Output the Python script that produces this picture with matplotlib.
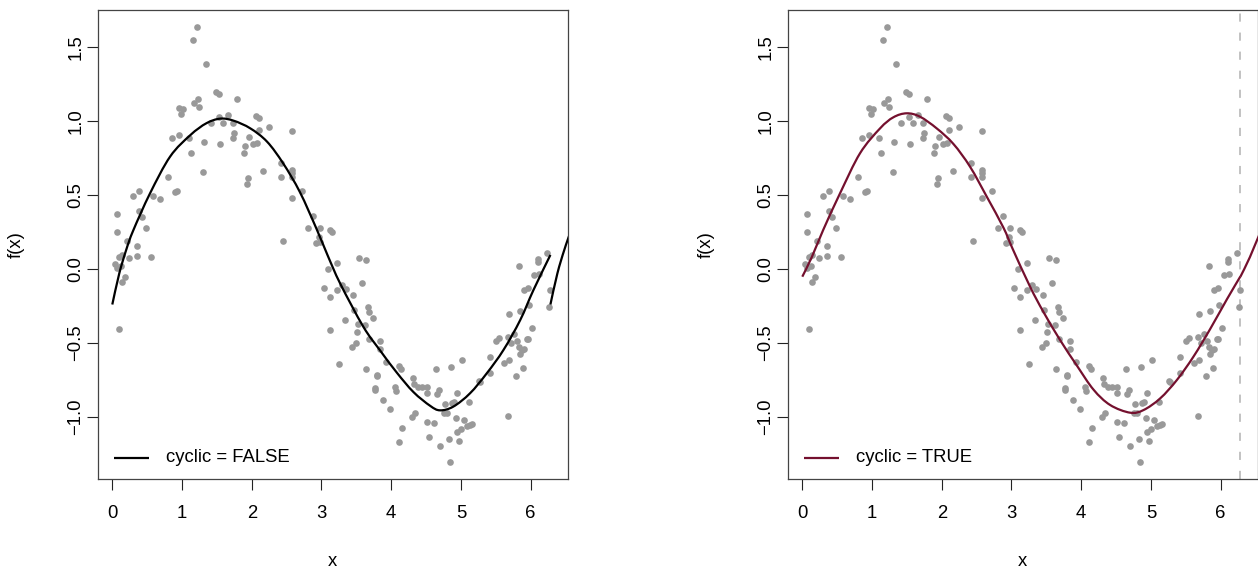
import matplotlib
matplotlib.use("Agg")
import matplotlib.pyplot as plt
from matplotlib.path import Path
from matplotlib.patches import PathPatch
import numpy as np

# ---------------- data ----------------
x_obs = [1.22, 1.158, 1.349, 1.49, 1.527, 1.789, 1.23, 1.177, 1.244, 0.962, 1.015, 0.986,
         2.062, 2.10, 1.531, 1.665, 1.42, 1.584, 1.736, 2.244, 2.105, 2.583, 1.746, 1.727,
         1.957, 0.952, 0.852, 1.105, 1.316, 1.545, 1.909, 2.023, 2.071, 1.124, 1.885, 2.416,
         2.574, 2.583, 2.574, 2.416, 2.162, 1.301, 1.943, 1.937, 0.804, 0.924, 0.905, 0.588,
         0.684, 0.297, 0.388, 2.717, 2.578, 0.072, 0.388, 0.421, 0.488, 0.072, 0.211, 0.359,
         2.88, 2.812, 2.98, 2.97, 3.128, 3.156, 2.923, 2.984, 2.445, 0.10, 0.143, 0.24,
         0.354, 0.551,
         0.039, 0.125, 0.072, 0.182, 0.135, 0.096, 3.228, 3.09, 3.037, 3.128, 3.22, 3.128,
         3.257,
         3.544, 3.64, 3.583, 3.291, 3.353, 3.458, 3.468, 3.664, 3.687, 3.736, 3.343, 3.525,
         3.63, 3.506, 3.687, 3.845, 3.5, 3.439, 3.836, 3.927, 4.113, 4.138, 3.64, 3.793,
         3.80, 4.319, 4.644, 4.859, 5.017, 5.415, 5.548, 5.5, 5.682, 5.759, 5.72, 5.806,
         5.83, 5.874, 5.911, 5.854, 5.692, 5.62, 5.897, 5.796, 5.423, 5.257, 5.27, 5.677,
         4.324, 4.381, 4.443, 4.51, 4.515, 4.663, 4.687, 4.95, 5.118, 4.902, 4.875, 4.773,
         4.806, 4.763, 3.769, 3.765, 4.056, 4.07, 3.888, 3.989, 4.338, 4.304, 4.51, 4.611,
         4.922, 5.05, 5.094, 5.136, 5.16, 5.003, 4.941, 4.161, 4.118, 4.548, 4.697, 4.831,
         4.979, 4.85,
         5.826, 6.108, 6.237, 6.041, 6.122, 5.907, 5.955, 5.84, 5.692, 5.978, 6.026, 5.945,
         5.96, 6.275, 6.265, 6.112]
y_obs = [1.635, 1.545, 1.387, 1.194, 1.185, 1.149, 1.149, 1.122, 1.092, 1.09, 1.079, 1.045,
         1.032, 1.022, 1.029, 1.038, 0.984, 0.984, 0.984, 0.962, 0.941, 0.93, 0.921, 0.883,
         0.894, 0.905, 0.887, 0.887, 0.858, 0.845, 0.833, 0.845, 0.849, 0.782, 0.784, 0.718,
         0.669, 0.647, 0.624, 0.624, 0.662, 0.658, 0.613, 0.577, 0.619, 0.525, 0.52, 0.491,
         0.473, 0.493, 0.527, 0.529, 0.482, 0.369, 0.392, 0.354, 0.275, 0.248, 0.189, 0.158,
         0.36, 0.275, 0.279, 0.218, 0.264, 0.25, 0.178, 0.18, 0.191, 0.083, 0.095, 0.077,
         0.088, 0.083,
         0.034, 0.022, 0.005, -0.056, -0.086, -0.405, 0.038, 0.0, -0.128, -0.191, -0.142, -0.412,
         -0.642,
         0.074, 0.061, -0.095, -0.106, -0.137, -0.173, -0.279, -0.254, -0.288, -0.333, -0.347, -0.37,
         -0.378, -0.428, -0.473, -0.484, -0.498, -0.527, -0.538, -0.628, -0.655, -0.673, -0.678, -0.718,
         -0.725, -0.736, -0.673, -0.662, -0.615, -0.595, -0.464, -0.484, -0.457, -0.437, -0.502, -0.484,
         -0.525, -0.547, -0.543, -0.576, -0.615, -0.633, -0.667, -0.721, -0.7, -0.757, -0.764, -0.995,
         -0.775, -0.795, -0.797, -0.797, -0.836, -0.842, -0.815, -0.84, -0.899, -0.899, -0.905, -0.91,
         -0.97, -0.975, -0.806, -0.815, -0.8, -0.822, -0.883, -0.944, -0.971, -1.002, -1.036, -1.038,
         -1.007, -1.02, -1.061, -1.052, -1.045, -1.083, -1.101, -1.074, -1.169, -1.137, -1.196, -1.146,
         -1.16, -1.306,
         0.022, 0.047, 0.108, -0.038, -0.034, -0.14, -0.128, -0.282, -0.306, -0.243, -0.401, -0.473,
         -0.476, -0.144, -0.254, 0.066]

# fitted curve, cyclic = FALSE
fit_false_x = [0.0, 0.10, 0.20, 0.30, 0.54, 0.83, 1.12, 1.35, 1.55, 1.74, 1.98, 2.22, 2.45,
               2.69, 2.93, 3.09, 3.27, 3.60, 3.84, 4.08, 4.32, 4.56, 4.70, 4.89, 5.13, 5.37,
               5.61, 5.85, 6.04, 6.283]
fit_false_y = [-0.24, -0.03, 0.13, 0.26, 0.51, 0.76, 0.905, 0.985, 1.016, 1.002, 0.95, 0.86, 0.714,
               0.52, 0.27, 0.09, -0.10, -0.39, -0.55, -0.70, -0.832, -0.925, -0.955, -0.93, -0.84,
               -0.705, -0.547, -0.345, -0.142, 0.095]

# fitted curve, cyclic = TRUE
fit_true_x = [0.0, 0.136, 0.30, 0.541, 0.828, 1.115, 1.306, 1.497, 1.688, 1.928, 2.167, 2.406,
              2.645, 2.884, 3.013, 3.267, 3.458, 3.697, 3.937, 4.176, 4.415, 4.702, 4.894, 5.133,
              5.372, 5.61, 5.85, 6.089, 6.283]
fit_true_y = [-0.052, 0.08, 0.264, 0.511, 0.782, 0.95, 1.025, 1.052, 1.029, 0.95, 0.845, 0.691,
              0.489, 0.28, 0.14, -0.12, -0.29, -0.48, -0.652, -0.815, -0.919, -0.971, -0.953,
              -0.874, -0.75, -0.592, -0.405, -0.205, -0.05]

period = 6.283
x_ticks = [0, 1, 2, 3, 4, 5, 6]
x_ticklabels = ["0", "1", "2", "3", "4", "5", "6"]
y_ticks = [-1.0, -0.5, 0.0, 0.5, 1.0, 1.5]
y_ticklabels = ["\u22121.0", "\u22120.5", "0.0", "0.5", "1.0", "1.5"]
legend_labels = ["cyclic = FALSE", "cyclic = TRUE"]
line_colors = ["#000000", "#74102E"]

# ---------------- figure ----------------
plt.rcParams["font.family"] = ["Liberation Sans", "DejaVu Sans"]
FS = 13.3
W, H = 1258, 569
fig = plt.figure(figsize=(W / 100, H / 100), dpi=100)

panel_left = [98, 788]
ax_w, ax_top, ax_bot = 469.7, 10, 479.3


def smooth_path(xs, ys):
    """Catmull-Rom curve through the read points, as cubic Bezier path."""
    p = np.column_stack([xs, ys]).astype(float)
    n = len(p)
    verts = [p[0]]
    codes = [Path.MOVETO]
    for k in range(n - 1):
        p0 = p[k - 1] if k > 0 else p[k]
        p1 = p[k]
        p2 = p[k + 1]
        p3 = p[k + 2] if k + 2 < n else p[k + 1]
        c1 = p1 + (p2 - p0) / 6.0
        c2 = p2 - (p3 - p1) / 6.0
        verts += [c1, c2, p2]
        codes += [Path.CURVE4] * 3
    return Path(verts, codes)


def make_panel(i, fx, fy):
    left = panel_left[i]
    ax = fig.add_axes([left / W, (H - ax_bot) / H, ax_w / W, (ax_bot - ax_top) / H])
    ax.plot(x_obs, y_obs, "o", ms=4.8, color="#999999", mec="none", zorder=2)
    if i == 1:
        ax.axvline(period, color="#c2c2c2", lw=1.4, linestyle=(0, (4.2, 5.6)), zorder=1)
    for shift in (0.0, period):
        patch = PathPatch(smooth_path(np.array(fx) + shift, fy), fill=False,
                          edgecolor=line_colors[i], lw=1.6, capstyle="butt", zorder=3)
        ax.add_patch(patch)
    ax.set_xlim(-0.205, 6.531)
    ax.set_ylim(-1.421, 1.75)
    ax.set_xticks(x_ticks)
    ax.set_xticklabels(x_ticklabels, fontsize=FS)
    ax.set_yticks(y_ticks)
    ax.set_yticklabels(y_ticklabels, fontsize=FS, rotation=90, va="center")
    ax.tick_params(axis="both", direction="out", length=7.9, width=0.8, color="#222222")
    ax.tick_params(axis="x", pad=10.6)
    ax.tick_params(axis="y", pad=2.0)
    for s in ax.spines.values():
        s.set_color("#444444")
        s.set_linewidth(0.9)
    # legend (manual, R style)
    ax.plot([0.034, 0.109], [0.0463, 0.0463], transform=ax.transAxes,
            color=line_colors[i], lw=1.6, solid_capstyle="butt")
    ax.text(0.1447, 0.0463, legend_labels[i], transform=ax.transAxes, fontsize=FS,
            ha="left", va="center")
    # axis labels
    cx = (left + ax_w / 2) / W
    fig.text(cx, 1 - 561 / H, "x", fontsize=FS, ha="center", va="center")
    fig.text((left - 82) / W, 1 - ((ax_top + ax_bot) / 2) / H, "f(x)", fontsize=FS,
             ha="center", va="center", rotation=90)
    return ax


make_panel(0, fit_false_x, fit_false_y)
make_panel(1, fit_true_x, fit_true_y)

fig.savefig("out.png", dpi=100)
